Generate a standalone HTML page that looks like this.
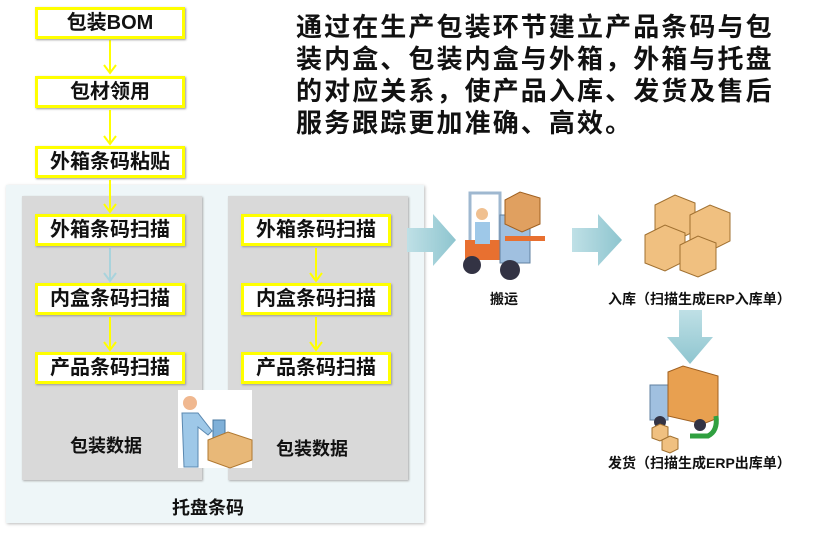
<!DOCTYPE html>
<html><head><meta charset="utf-8"><style>
body{margin:0;width:819px;height:539px;background:#fff;position:relative;overflow:hidden;font-family:"Liberation Sans","Noto Sans CJK SC",sans-serif;font-weight:bold;color:#111}
.a{position:absolute}
.bx{position:absolute;width:144px;height:26px;border:3px solid #ffff00;background:#fff;font-size:20px;line-height:26px;text-align:center;box-shadow:1px 1px 2px #999;white-space:nowrap}
.gp{position:absolute;background:#d9d9d9;box-shadow:1px 1px 2px #aaa}
.t{position:absolute;font-size:18px;white-space:nowrap}
.s{position:absolute;font-size:14px;white-space:nowrap}
</style></head><body>
<div class="a" style="left:6px;top:185px;width:418px;height:338px;background:#eef6f8;box-shadow:1px 1px 3px #bbb"></div>
<div class="gp" style="left:22px;top:196px;width:180px;height:284px"></div>
<div class="gp" style="left:228px;top:196px;width:180px;height:284px"></div>
<svg class="a" style="left:0;top:0" width="819" height="539">
<g stroke="#ffff00" stroke-width="2" fill="none">
<line x1="110" y1="40" x2="110" y2="72"/><polyline points="104,65 110,73 116,65"/>
<line x1="110" y1="110" x2="110" y2="143"/><polyline points="104,136 110,144 116,136"/>
<line x1="110" y1="180" x2="110" y2="211"/><polyline points="104,204 110,212 116,204"/>
<line x1="110" y1="317" x2="110" y2="349"/><polyline points="104,342 110,350 116,342"/>
<line x1="316" y1="248" x2="316" y2="280"/><polyline points="310,273 316,281 322,273"/>
<line x1="316" y1="317" x2="316" y2="349"/><polyline points="310,342 316,350 322,342"/>
</g>
<g stroke="#a9d3dc" stroke-width="2" fill="none"><line x1="110" y1="248" x2="110" y2="280"/><polyline points="104,273 110,281 116,273"/></g>
<defs><linearGradient id="g" x1="0" x2="1"><stop offset="0" stop-color="#bfe0e6"/><stop offset="1" stop-color="#8ec5cf"/></linearGradient>
<linearGradient id="gv" x1="0" y1="0" x2="0" y2="1"><stop offset="0" stop-color="#bfe0e6"/><stop offset="1" stop-color="#8ec5cf"/></linearGradient></defs>
<polygon points="407,228 433,228 433,214 456,240 433,266 433,252 407,252" fill="url(#g)"/>
<polygon points="572,228 598,228 598,214 622,240 598,266 598,252 572,252" fill="url(#g)"/>
<polygon points="679,310 702,310 702,337 713,337 690,364 667,337 679,337" fill="url(#gv)"/>
<rect x="178" y="390" width="74" height="78" fill="#fff"/>
<circle cx="190" cy="403" r="7" fill="#f0b890"/>
<path d="M182 413 h16 l14 18 -4 4 -10 -8 v40 h-14 z" fill="#9ec8e8" stroke="#5a88b0"/>
<rect x="213" y="420" width="12" height="18" fill="#7fb0d8" stroke="#4a78a0"/>
<path d="M208 440 l20 -8 24 8 v20 l-22 8 -22 -8z" fill="#e8b878" stroke="#b07830"/>
<rect x="470" y="193" width="30" height="60" fill="none" stroke="#9fb8d0" stroke-width="3"/>
<rect x="465" y="240" width="45" height="20" fill="#e87030"/>
<circle cx="482" cy="214" r="6" fill="#f0c090"/>
<path d="M475 222 h15 v22 h-15z" fill="#9ec8e8"/>
<rect x="500" y="215" width="30" height="48" fill="#a0c0e0" stroke="#6080a0"/>
<circle cx="472" cy="265" r="9" fill="#334"/><circle cx="510" cy="270" r="10" fill="#334"/>
<path d="M505 200 l15 -8 20 6 v26 l-18 8 -17 -8z" fill="#e0a060" stroke="#a06020"/>
<rect x="505" y="236" width="40" height="5" fill="#e87030"/>
<g fill="#f0c080" stroke="#a07030">
<path d="M655 205 l20 -10 20 8 v28 l-20 10 -20 -8z"/>
<path d="M690 215 l20 -10 20 8 v28 l-20 10 -20 -8z"/>
<path d="M645 235 l20 -10 20 8 v28 l-20 10 -20 -8z"/>
<path d="M680 245 l18 -9 18 7 v26 l-18 8 -18 -7z"/>
</g>
<path d="M650 385 h18 v35 h-18z" fill="#a0c0e0" stroke="#6080a0"/>
<path d="M668 372 l15 -6 35 10 v42 l-15 6 -35 -8z" fill="#e8a050" stroke="#a06020"/>
<circle cx="660" cy="422" r="6" fill="#334"/><circle cx="700" cy="425" r="6" fill="#334"/>
<path d="M652 428 l8 -4 8 3 v10 l-8 4 -8 -3z M662 440 l8 -4 8 3 v10 l-8 4 -8 -3z" fill="#f0c080" stroke="#a07030"/>
<path d="M690 436 h18 q10 -5 8 -20" stroke="#30a040" stroke-width="5" fill="none"/>
</svg>
<div class="bx" style="left:35px;top:7px">包装BOM</div>
<div class="bx" style="left:35px;top:76px">包材领用</div>
<div class="bx" style="left:35px;top:146px">外箱条码粘贴</div>
<div class="bx" style="left:35px;top:214px">外箱条码扫描</div>
<div class="bx" style="left:35px;top:283px">内盒条码扫描</div>
<div class="bx" style="left:35px;top:352px">产品条码扫描</div>
<div class="bx" style="left:241px;top:214px">外箱条码扫描</div>
<div class="bx" style="left:241px;top:283px">内盒条码扫描</div>
<div class="bx" style="left:241px;top:352px">产品条码扫描</div>
<div class="t" style="left:70px;top:432px">包装数据</div>
<div class="t" style="left:276px;top:435px">包装数据</div>
<div class="t" style="left:172px;top:494px">托盘条码</div>
<div class="s" style="left:490px;top:289px">搬运</div>
<div class="s" style="left:608px;top:289px">入库（扫描生成ERP入库单）</div>
<div class="s" style="left:608px;top:453px">发货（扫描生成ERP出库单）</div>
<div class="a" style="left:296px;top:11px;white-space:nowrap;font-size:26px;letter-spacing:2.1px;line-height:32px">通过在生产包装环节建立产品条码与包<br>装内盒、包装内盒与外箱，外箱与托盘<br>的对应关系，使产品入库、发货及售后<br>服务跟踪更加准确、高效。</div>
</body></html>
